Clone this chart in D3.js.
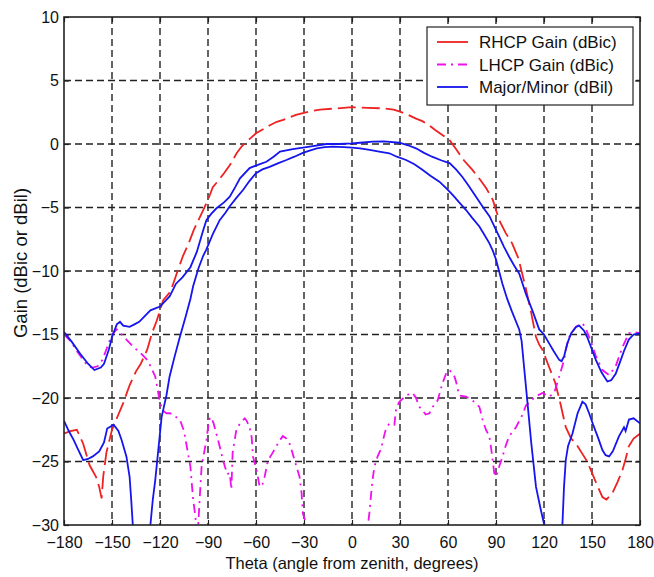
<!DOCTYPE html>
<html>
<head>
<meta charset="utf-8">
<script src="https://cdn.jsdelivr.net/npm/d3@7"></script>
<style>
    body { margin: 0; background: #ffffff; }
    text { font-family: "Liberation Sans", Arial, sans-serif; fill: #111; }
</style>
</head>
<body>
<script>
// theta (deg) / gain (dB) pairs
var rhcp = [[-180,-22.8],[-176,-22.6],[-172,-22.5],[-168,-23.6],[-164,-25.3],[-160,-26.2],[-158,-27.0],[-156.5,-27.9],
    [-155.5,-26.2],[-153.5,-24.3],[-150,-22.5],[-146,-21.3],[-143,-20.4],[-139,-19.0],[-135,-17.9],[-132,-17.3],
    [-128,-16.2],[-125,-14.9],[-122,-13.9],[-118,-12.3],[-114,-11.7],[-112,-11.1],[-109,-10.0],[-105.6,-8.8],
    [-102,-7.8],[-99,-6.8],[-96,-6.0],[-93,-5.2],[-90,-4.4],[-87,-3.4],[-83,-2.8],[-80,-2.3],[-76,-1.6],[-72,-0.7],
    [-69,-0.2],[-66,0.18],[-63,0.5],[-60,0.84],[-55,1.2],[-51,1.5],[-47,1.75],[-43,1.9],[-39,2.1],[-35,2.3],
    [-30,2.45],[-25,2.6],[-20,2.7],[-10,2.8],[0,2.9],[10,2.85],[20,2.8],[26,2.7],[30,2.55],[35,2.3],[40,2.0],
    [44,1.8],[48,1.5],[52,1.1],[56,0.75],[61,0.3],[65,-0.4],[70,-1.3],[75,-2.0],[80,-2.8],[84,-3.5],[88,-4.4],
    [92,-6.0],[96,-7.0],[100,-7.8],[104,-9.0],[108.7,-11.4],[112,-13.3],[115,-15.2],[117,-15.8],[119,-16.2],
    [123,-17.5],[127,-18.8],[130,-20.3],[133.6,-22.3],[137,-23.2],[140,-23.6],[144,-24.4],[147,-25.0],[150,-25.9],
    [153,-26.8],[156.5,-27.8],[159,-28.0],[162.7,-27.5],[166,-26.6],[169,-25.7],[171,-24.8],[173,-23.8],
    [176,-23.2],[180,-22.8]];

var lhcp = [[-180,-15.0],[-176,-15.5],[-172,-16.3],[-168,-17.0],[-165,-17.5],[-162,-17.6],[-159,-17.5],[-156,-17.0],
    [-153,-16.0],[-150,-15.0],[-147,-14.6],[-144,-15.0],[-141,-15.4],[-138,-15.8],[-134.6,-16.2],[-131,-16.6],
    [-128,-17.0],[-125.5,-17.6],[-123,-18.3],[-121.5,-19.3],[-120,-20.4],[-118,-21.0],[-116,-21.2],[-113.7,-21.2],
    [-110,-21.5],[-107.6,-21.7],[-105,-22.6],[-103,-24.0],[-101,-25.4],[-99.3,-28.0],[-98,-29.2],[-97,-30.5],
    [-96,-29.8],[-95,-27.5],[-94,-25.4],[-92,-24.0],[-91,-23.3],[-89.3,-21.7],[-88,-21.5],[-86.5,-22.0],
    [-85,-22.7],[-82.7,-23.8],[-80.6,-24.9],[-78,-26.0],[-76.4,-25.9],[-75.4,-27.2],[-74.6,-24.3],[-73.3,-23.3],
    [-72.3,-22.5],[-70,-22.0],[-67,-21.6],[-65.8,-21.8],[-64,-22.3],[-62.7,-23.1],[-61.9,-24.6],[-59.6,-25.7],
    [-57.7,-27.0],[-56,-26.8],[-54.6,-26.2],[-52.5,-24.9],[-50,-24.4],[-47.3,-23.8],[-45,-23.3],[-43.2,-23.0],
    [-41,-23.2],[-39,-23.6],[-37.5,-24.2],[-35.9,-24.9],[-32.8,-26.2],[-31.5,-27.5],[-30.7,-29.1],[-28.6,-29.9],
    [-26,-31],[-20,-32],[-15,-30.8],[-12,-29.9],[-10,-31],[-5,-33],[0,-33],[5,-31.5],[8,-31],[9.9,-30.1],
    [10.9,-29.0],[12,-27.5],[13,-26.3],[14,-25.4],[16,-24.6],[18.2,-24.0],[20,-23.0],[21.3,-22.4],[23.4,-22.0],
    [26.5,-22.1],[27.6,-20.8],[29.6,-20.3],[33.8,-19.8],[37.9,-19.6],[40,-20.0],[42.1,-20.7],[44.2,-21.0],
    [46,-21.3],[48.4,-21.2],[50.4,-20.7],[53.5,-20.2],[55.7,-19.2],[56.7,-18.8],[59,-18.0],[60.8,-17.8],
    [62.5,-18.0],[64,-18.3],[65,-18.7],[67,-19.8],[71.3,-19.9],[75.4,-20.2],[79.6,-20.7],[81.6,-21.7],
    [83.7,-22.5],[85.8,-23.0],[86.8,-23.8],[88.9,-25.9],[90,-26.2],[92,-25.4],[94.1,-24.6],[96.2,-23.7],
    [98.3,-23.0],[102.5,-22.3],[106.6,-21.3],[108.7,-20.6],[112.8,-20.1],[116,-19.8],[119,-19.6],[123.2,-19.9],
    [126.4,-19.6],[129.5,-18.3],[132.6,-17.0],[133.6,-16.2],[135.7,-15.2],[139.9,-14.4],[144,-14.1],[146,-14.5],
    [148.2,-15.2],[150,-15.8],[152.4,-16.7],[156.5,-17.8],[160.7,-18.2],[164.8,-17.5],[169,-16.0],[173.1,-14.9],
    [176,-14.8],[180,-14.9]];

var major = [[-180,-14.8],[-175,-15.6],[-170,-16.5],[-165,-17.3],[-161,-17.8],[-157,-17.6],[-155,-17.3],[-152,-16.2],
    [-150,-15.2],[-147,-14.2],[-145,-14.0],[-143,-14.3],[-139,-14.4],[-136,-14.2],[-133,-14.0],[-126,-13.1],
    [-120,-12.8],[-114,-12.0],[-110,-11.0],[-106,-10.5],[-101,-9.7],[-97,-8.5],[-93,-6.8],[-91,-6.0],[-88,-5.5],
    [-84.7,-5.06],[-80,-4.6],[-76.4,-4.15],[-73,-3.4],[-70,-2.7],[-64,-1.9],[-58,-1.6],[-53.5,-1.4],[-49,-1.0],
    [-45,-0.6],[-37,-0.4],[-26.5,-0.2],[-16,0],[-8,0],[0,0.05],[5,0.1],[13,0.18],[20,0.2],[29.6,0.1],[35,-0.1],
    [40,-0.34],[45,-0.7],[50,-1.0],[56,-1.3],[61,-1.5],[65,-2.0],[69,-2.6],[73,-3.3],[77.5,-4.15],[82,-5.0],
    [86,-5.7],[89,-6.5],[92,-7.3],[95,-8.1],[98.3,-8.9],[101.5,-9.6],[104.5,-10.2],[108.7,-11.8],[113,-13.2],
    [117,-14.6],[120,-15.0],[123.2,-15.7],[126,-16.3],[129.5,-17.0],[131,-17.1],[132.6,-16.7],[134.6,-15.7],
    [137,-14.9],[140,-14.4],[142,-14.3],[145,-14.7],[147,-15.2],[150,-16.2],[152.4,-17.0],[156,-18.0],
    [159.6,-18.7],[162,-18.6],[164.8,-18.1],[168,-17.0],[170,-16.3],[173,-15.4],[176,-15.0],[180,-14.9]];

var minor = [[-180,-21.8],[-177,-22.6],[-174,-23.3],[-171,-24.1],[-168,-24.9],[-165,-24.8],[-162,-24.6],[-158,-24.2],
    [-155,-23.5],[-153,-22.4],[-149,-22.1],[-146,-22.6],[-144,-23.3],[-141,-24.6],[-139,-26.2],[-138,-28],
    [-137,-30],[-135,-32],[-130,-33],[-128,-31.5],[-126,-30],[-124.5,-28],[-123,-26.5],[-121,-24],[-119,-21.5],
    [-116,-19.8],[-114,-18.3],[-111,-16.8],[-107.6,-15.2],[-104,-13.6],[-101,-12.2],[-99.3,-11.2],[-96,-9.8],
    [-93,-8.8],[-91,-8.3],[-87,-7.1],[-82.7,-6.0],[-79,-5.4],[-76.4,-4.9],[-72,-4.2],[-68,-3.6],[-64,-2.9],
    [-60,-2.3],[-56,-2.0],[-51.5,-1.8],[-46,-1.5],[-41,-1.26],[-36,-1.0],[-30.7,-0.7],[-26,-0.5],[-22,-0.34],
    [-17,-0.25],[-12,-0.2],[-5,-0.25],[0,-0.28],[5,-0.35],[11,-0.47],[17,-0.6],[23.4,-0.73],[28,-1.0],
    [33.8,-1.26],[39,-1.6],[44.2,-2.05],[49,-2.5],[54.6,-2.97],[59,-3.5],[62.9,-4.0],[67,-4.6],[71.3,-5.2],
    [75,-5.8],[79.6,-6.5],[83,-7.2],[85.8,-7.8],[88,-8.4],[90,-9.1],[94,-11.0],[97,-12.2],[100,-13.2],
    [104.5,-14.6],[106,-15.5],[107.5,-17.5],[109.7,-20.4],[112,-23.5],[115,-27],[118,-28.8],[120,-29.9],
    [121,-31],[125,-34],[129,-33],[131,-30.5],[131.5,-30],[132.5,-27],[133.6,-24.9],[135,-23.8],[137.8,-22.8],
    [141,-21.2],[144,-20.3],[146,-20.5],[148.2,-21.2],[151,-22.2],[154,-23.2],[156.5,-24.1],[158.5,-24.5],
    [160.7,-24.6],[163,-24.2],[166.9,-23.0],[170,-22.3],[171,-22.6],[173.1,-21.7],[176,-21.6],[180,-22.0]];

var xTicks = [-180, -150, -120, -90, -60, -30, 0, 30, 60, 90, 120, 150, 180];
var yTicks = [-30, -25, -20, -15, -10, -5, 0, 5, 10];
var legendNames = ["RHCP Gain (dBic)", "LHCP Gain (dBic)", "Major/Minor (dBil)"];

var W = 654, H = 577;
var margin = {top: 17, right: 14, bottom: 52, left: 64};
var w = W - margin.left - margin.right;
var h = H - margin.top - margin.bottom;

var svg = d3.select("body").append("svg")
    .attr("width", W)
    .attr("height", H);

var g = svg.append("g")
    .attr("transform", "translate(" + margin.left + "," + margin.top + ")");

var x = d3.scaleLinear().domain([-180, 180]).range([0, w]);
var y = d3.scaleLinear().domain([-30, 10]).range([h, 0]);

// dashed grid
g.append("g").selectAll("line.vg")
    .data(xTicks.slice(1, -1))
    .enter().append("line")
    .attr("x1", function(d) { return x(d); })
    .attr("x2", function(d) { return x(d); })
    .attr("y1", 0).attr("y2", h)
    .attr("stroke", "#222").attr("stroke-width", 1.4)
    .attr("stroke-dasharray", "7,4");

g.append("g").selectAll("line.hg")
    .data(yTicks.slice(1, -1))
    .enter().append("line")
    .attr("y1", function(d) { return y(d); })
    .attr("y2", function(d) { return y(d); })
    .attr("x1", 0).attr("x2", w)
    .attr("stroke", "#222").attr("stroke-width", 1.4)
    .attr("stroke-dasharray", "7,4");

// axes: bottom/left with labels, top/right ticks only (inward ticks)
var xAxis = g.append("g").attr("transform", "translate(0," + h + ")")
    .call(d3.axisBottom(x).tickValues(xTicks).tickSizeInner(-5).tickSizeOuter(0).tickPadding(14));
var yAxis = g.append("g")
    .call(d3.axisLeft(y).tickValues(yTicks).tickSizeInner(-5).tickSizeOuter(0).tickPadding(5));
g.append("g")
    .call(d3.axisTop(x).tickValues(xTicks).tickSizeInner(-5).tickSizeOuter(0).tickFormat(""));
g.append("g").attr("transform", "translate(" + w + ",0)")
    .call(d3.axisRight(y).tickValues(yTicks).tickSizeInner(-5).tickSizeOuter(0).tickFormat(""));

g.selectAll(".domain").remove();
g.selectAll(".tick line").attr("stroke", "#222").attr("stroke-width", 1.2);
g.selectAll(".tick text")
    .style("font-family", "'Liberation Sans', Arial, sans-serif")
    .style("font-size", "16px")
    .attr("fill", "#111");
xAxis.selectAll(".tick text").attr("dy", "0.55em");

// curves
svg.append("defs").append("clipPath").attr("id", "plotClip")
    .append("rect").attr("width", w).attr("height", h);

var line = d3.line()
    .x(function(d) { return x(d[0]); })
    .y(function(d) { return y(d[1]); });

var curves = g.append("g").attr("clip-path", "url(#plotClip)");

curves.append("path").datum(rhcp)
    .attr("d", line).attr("fill", "none")
    .attr("stroke", "#ee2222").attr("stroke-width", 1.8)
    .attr("stroke-dasharray", "18,6");

curves.append("path").datum(lhcp)
    .attr("d", line).attr("fill", "none")
    .attr("stroke", "#ee11ee").attr("stroke-width", 1.8)
    .attr("stroke-dasharray", "9,5,2,5");

curves.append("path").datum(major)
    .attr("d", line).attr("fill", "none")
    .attr("stroke", "#1515ee").attr("stroke-width", 1.8);

curves.append("path").datum(minor)
    .attr("d", line).attr("fill", "none")
    .attr("stroke", "#1515ee").attr("stroke-width", 1.8);

// frame
g.append("rect")
    .attr("width", w).attr("height", h)
    .attr("fill", "none")
    .attr("stroke", "#222").attr("stroke-width", 1.6);

// legend
var legend = svg.append("g").attr("transform", "translate(427,27)");
legend.append("rect")
    .attr("width", 206).attr("height", 78)
    .attr("fill", "#fff").attr("stroke", "#222").attr("stroke-width", 1.2);

var legendStyles = [
    {color: "#ee2222", dash: null},
    {color: "#ee11ee", dash: "9,5,2,5"},
    {color: "#1515ee", dash: null}
];

legendNames.forEach(function(name, i) {
    var ly = 15 + i * 22.5;
    legend.append("line")
        .attr("x1", 10).attr("x2", 41)
        .attr("y1", ly).attr("y2", ly)
        .attr("stroke", legendStyles[i].color)
        .attr("stroke-width", 1.8)
        .attr("stroke-dasharray", legendStyles[i].dash);
    legend.append("text")
        .attr("x", 52).attr("y", ly)
        .attr("dy", "0.36em")
        .style("font-size", "17px")
        .text(name);
});

// axis titles
svg.append("text")
    .attr("x", margin.left + w / 2)
    .attr("y", 569)
    .attr("text-anchor", "middle")
    .style("font-size", "16.5px")
    .text("Theta (angle from zenith, degrees)");

svg.append("text")
    .attr("transform", "translate(27," + (margin.top + h / 2 - 8) + ") rotate(-90)")
    .attr("text-anchor", "middle")
    .style("font-size", "18.5px")
    .text("Gain (dBic or dBil)");
</script>
</body>
</html>
